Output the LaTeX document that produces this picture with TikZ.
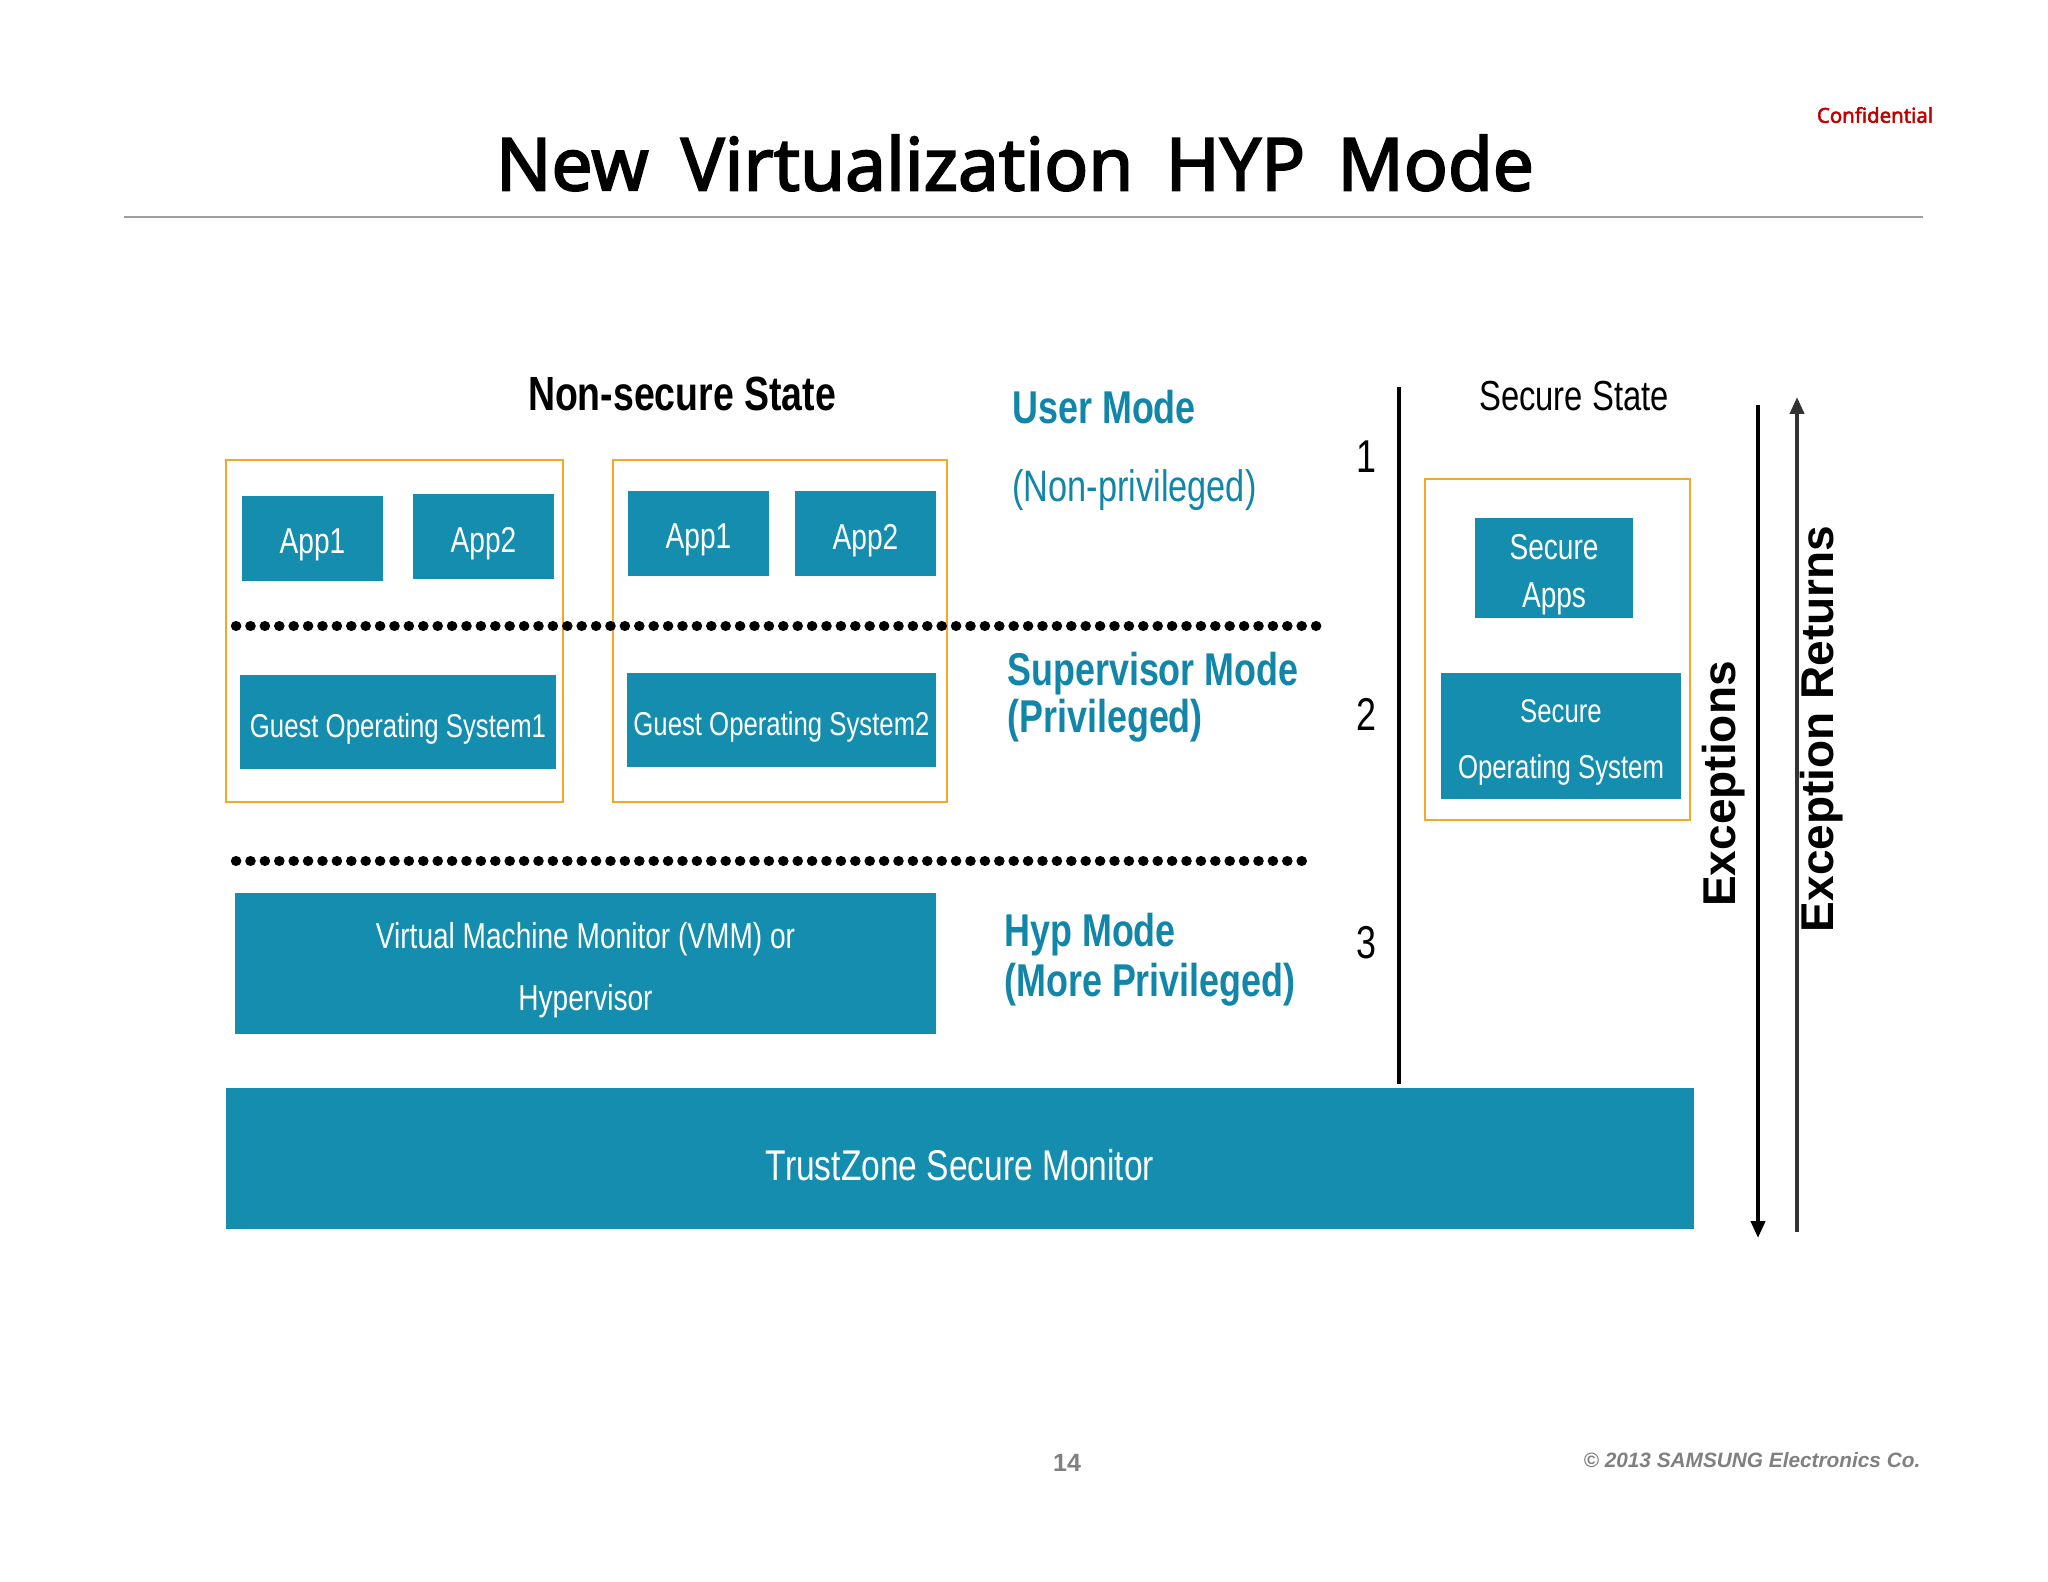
\documentclass[tikz,border=0pt]{standalone}
\usepackage{fontspec}
\usetikzlibrary{fit,arrows.meta}
\newfontfamily\cond[FakeStretch=0.78]{Liberation Sans}
\newfontfamily\titlef[AutoFakeBold=2.5,WordSpace=1.7]{Noto Sans}
\newfontfamily\arialf{Liberation Sans}
\definecolor{boxteal}{RGB}{20,141,174}
\definecolor{labteal}{RGB}{17,134,168}
\definecolor{frameor}{RGB}{245,168,40}
\definecolor{confred}{RGB}{192,0,0}
\definecolor{footgray}{RGB}{128,128,128}
\tikzset{
  tbox/.style={fill=boxteal, draw=none, inner sep=0pt},
  btext/.style={inner sep=0pt, text=white, align=center},
  obox/.style={draw=frameor, line width=1pt, inner sep=0pt},
  modelab/.style={anchor=west, inner sep=0pt, text=labteal},
  numlab/.style={inner sep=0pt, font=\cond\fontsize{23}{23}\selectfont},
  dotline/.style={line width=5.2pt, line cap=round, dash pattern=on 0.1pt off 7.1pt},
  arrline/.style={line width=2pt, -{Triangle[length=8.5pt,width=7pt]}},
}
\begin{document}
\begin{tikzpicture}[x=0.5pt,y=-0.5pt]
\useasboundingbox[fill=white] (0,0) rectangle (2048,1582);
% header
\node[inner sep=0pt, font=\titlef\bfseries\fontsize{36.5}{36.5}\selectfont] (title) at (1015,163) {New Virtualization HYP Mode};
\coordinate (hl) at (124,217); \coordinate (hr) at (1923,217);
\draw[gray!75, line width=1pt] (hl) -- (hr);
\node[inner sep=0pt, text=confred, font=\titlef\bfseries\fontsize{10.2}{10.2}\selectfont] (conf) at (1875,115) {Confidential};
% state titles
\node[inner sep=0pt, font=\cond\fontsize{24}{24}\selectfont\bfseries] (nss) at (682,394) {Non-secure State};
\node[inner sep=0pt, font=\cond\fontsize{21}{21}\selectfont] (ss) at (1574,396) {Secure State};
% orange frames
\node[obox, fit={(226,460) (563,802)}] (frame1) {};
\node[obox, fit={(613,460) (947,802)}] (frame2) {};
\node[obox, fit={(1425,479) (1690,820)}] (frame3) {};
% apps and systems (boxes)
\node[tbox, minimum width=70.5pt, minimum height=42.5pt] (app1a) at (312.5,538.5) {};
\node[tbox, minimum width=70.5pt, minimum height=42.5pt] (app2a) at (483.5,536.5) {};
\node[tbox, minimum width=70.5pt, minimum height=42.5pt] (app1b) at (698.5,533.5) {};
\node[tbox, minimum width=70.5pt, minimum height=42.5pt] (app2b) at (865.5,533.5) {};
\node[tbox, minimum width=158pt, minimum height=47pt] (gos1) at (398,722) {};
\node[tbox, minimum width=154.5pt, minimum height=47pt] (gos2) at (781.5,720) {};
\node[tbox, minimum width=350.5pt, minimum height=70.5pt] (vmm) at (585.5,963.5) {};
\node[tbox, minimum width=734pt, minimum height=70.5pt] (tz) at (960,1158.5) {};
\node[tbox, minimum width=79pt, minimum height=50pt] (secapps) at (1554,568) {};
\node[tbox, minimum width=120pt, minimum height=63pt] (secos) at (1561,736) {};
% box texts
\node[btext, font=\cond\fontsize{18}{18}\selectfont] (app1a-t) at ([yshift=-3.4pt]app1a.center) {App1};
\node[btext, font=\cond\fontsize{18}{18}\selectfont] (app2a-t) at ([yshift=-3.4pt]app2a.center) {App2};
\node[btext, font=\cond\fontsize{18}{18}\selectfont] (app1b-t) at ([yshift=-3.4pt]app1b.center) {App1};
\node[btext, font=\cond\fontsize{18}{18}\selectfont] (app2b-t) at ([yshift=-3.4pt]app2b.center) {App2};
\node[btext, font=\cond\fontsize{16.5}{16.5}\selectfont] (gos1-t) at ([yshift=-3.4pt]gos1.center) {Guest Operating System1};
\node[btext, font=\cond\fontsize{16.5}{16.5}\selectfont] (gos2-t) at ([yshift=-3.4pt]gos2.center) {Guest Operating System2};
\node[btext, font=\cond\fontsize{18}{30.7}\selectfont] (vmm-t) at ([yshift=-3.4pt]vmm.center) {Virtual Machine Monitor (VMM) or\\Hypervisor};
\node[btext, font=\cond\fontsize{21.5}{21.5}\selectfont] (tz-t) at ([yshift=-3.4pt]tz.center) {TrustZone Secure Monitor};
\node[btext, font=\cond\fontsize{18}{24}\selectfont] (secapps-t) at ([yshift=-3.4pt]secapps.center) {Secure\\Apps};
\node[btext, font=\cond\fontsize{16.5}{28}\selectfont] (secos-t) at ([yshift=-3.4pt]secos.center) {Secure\\Operating System};
% dotted separators
\coordinate (d1l) at (236,626); \coordinate (d1r) at (1322,626);
\coordinate (d2l) at (236,861); \coordinate (d2r) at (1306,861);
\draw[dotline] (d1l) -- (d1r);
\draw[dotline] (d2l) -- (d2r);
% mode labels
\node[modelab, font=\cond\bfseries\fontsize{23}{23}\selectfont] (um) at (1012,407) {User Mode};
\node[modelab, font=\cond\fontsize{22}{22}\selectfont] (unp) at (1012,490) {(Non-privileged)};
\node[modelab, font=\cond\bfseries\fontsize{23}{23}\selectfont] (sm) at (1007,674) {Supervisor Mode};
\node[modelab, font=\cond\bfseries\fontsize{23}{23}\selectfont] (smp) at (1007,721) {(Privileged)};
\node[modelab, font=\cond\bfseries\fontsize{23}{23}\selectfont] (hm) at (1004,935) {Hyp Mode};
\node[modelab, font=\cond\bfseries\fontsize{23}{23}\selectfont] (hmp) at (1004,985) {(More Privileged)};
% level numbers
\node[numlab] (n1) at (1366,457) {1};
\node[numlab] (n2) at (1366,714) {2};
\node[numlab] (n3) at (1366,943) {3};
% separator
\coordinate (vt) at (1399,387); \coordinate (vb) at (1399,1084);
\draw[line width=2pt] (vt) -- (vb);
% exception arrows
\coordinate (ext) at (1758,405); \coordinate (exb) at (1758,1238);
\coordinate (ert) at (1797,397); \coordinate (erb) at (1797,1232);
\draw[arrline] (ext) -- (exb);
\draw[arrline, black!80] (erb) -- (ert);
\node[rotate=90, inner sep=0pt, font=\arialf\bfseries\fontsize{23}{23}\selectfont] (exl) at (1724,784) {Exceptions};
\node[rotate=90, inner sep=0pt, font=\arialf\bfseries\fontsize{23}{23}\selectfont] (erl) at (1822,729) {Exception Returns};
% footer
\node[inner sep=0pt, text=footgray, font=\arialf\bfseries\fontsize{12.5}{12.5}\selectfont] (pg) at (1067,1463) {14};
\node[inner sep=0pt, text=footgray, font=\arialf\bfseries\itshape\fontsize{10.4}{10.4}\selectfont] (copy) at (1752,1460) {© 2013 SAMSUNG Electronics Co.};
\end{tikzpicture}
\end{document}
